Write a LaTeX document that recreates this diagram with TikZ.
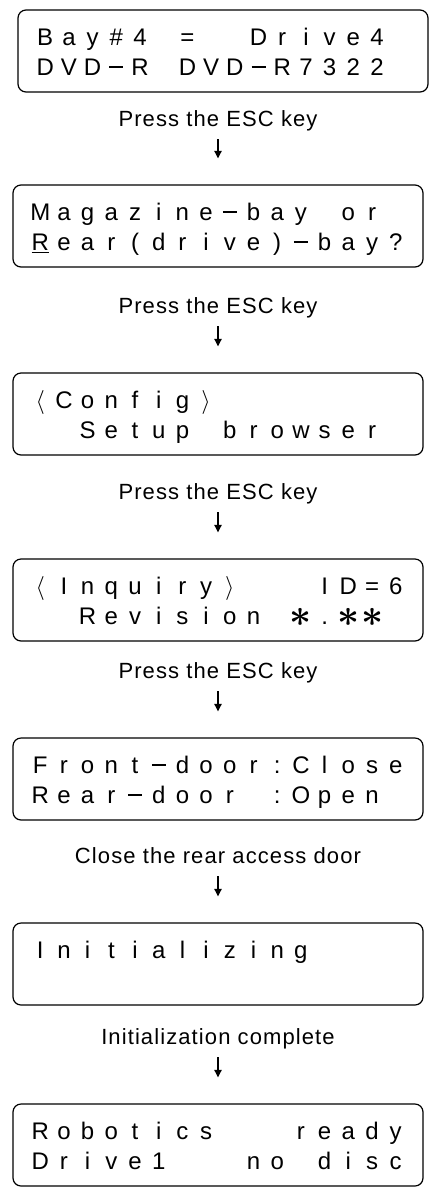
\documentclass[tikz,border=0pt]{standalone}
\usepackage{fontspec}
\setmainfont{Liberation Sans}
\newfontfamily\labelfont[LetterSpace=5]{Liberation Sans}
\usepackage{graphicx}
\usepackage{tikz}
\usetikzlibrary{arrows.meta}

\newlength\lcdw
\setlength\lcdw{11.85pt}
\newcommand\lcdcell[1]{\makebox[\lcdw][c]{#1}}
\def\lcdscan#1{\ifx\relax#1\else\lcdcell{#1}\expandafter\lcdscan\fi}
\newcommand\lcd[1]{\makebox[16\lcdw][l]{\rule[-3pt]{0pt}{15pt}\lcdscan#1\relax}}
\newcommand\lcdstar{\raisebox{-1pt}{\scalebox{1.6}{\boldmath$\ast$}}}
\newcommand\lcddash{\rule[3.5pt]{7pt}{1.2pt}}

\begin{document}
\begin{tikzpicture}[x=0.5pt,y=-0.5pt,
    lcdbox/.style={draw, line width=0.6pt, rounded corners=4pt, minimum width=205pt,
        minimum height=41pt, inner sep=0pt, font=\fontsize{12}{15}\selectfont, align=left},
    hint/.style={font=\labelfont\fontsize{11}{13}\selectfont, inner sep=0pt,
        text height=8pt, text depth=2.5pt, anchor=base},
    flow/.style={-{Triangle[length=3.8pt,width=3.6pt]}, line width=0.9pt,
        shorten <=4pt, shorten >=13pt}]
    \useasboundingbox (0,0) rectangle (432,1190);

    \node[lcdbox] (bay) at (223,51) {\lcd{Bay\#4~=~~Drive4}\\\lcd{DVD\lcddash R~DVD\lcddash R7322}};
    \node[hint] (esc1) at (218,126) {Press the ESC key};

    \node[lcdbox] (bayask) at (218,226) {\lcd{Magazine\lcddash bay~or}\\\lcd{{\underline{R}}ear(drive)\lcddash bay?}};
    \node[hint] (esc2) at (218,313) {Press the ESC key};

    \node[lcdbox] (config) at (218,414) {\lcd{{$\langle$}Config{$\rangle$}}\\\lcd{~~Setup~browser}};
    \node[hint] (esc3) at (218,499) {Press the ESC key};

    \node[lcdbox] (inquiry) at (218,600) {\lcd{{$\langle$}Inquiry{$\rangle$}~~~ID=6}\\\lcd{~~Revision~\lcdstar.\lcdstar\lcdstar}};
    \node[hint] (esc4) at (218,678) {Press the ESC key};

    \node[lcdbox] (doors) at (218,779) {\lcd{Front\lcddash door:Close}\\\lcd{Rear\lcddash door~:Open}};
    \node[hint] (close) at (218,863) {Close the rear access door};

    \node[lcdbox] (init) at (218,964) {\lcd{Initializing}\\\lcd{}};
    \node[hint] (done) at (218,1044) {Initialization complete};

    \node[lcdbox] (ready) at (218,1145) {\lcd{Robotics~~~ready}\\\lcd{Drive1~~~no~disc}};

    \foreach \a/\b in {esc1/bayask, esc2/config, esc3/inquiry, esc4/doors, close/init, done/ready}
        \draw[flow] (\a) -- (\b);
\end{tikzpicture}
\end{document}
